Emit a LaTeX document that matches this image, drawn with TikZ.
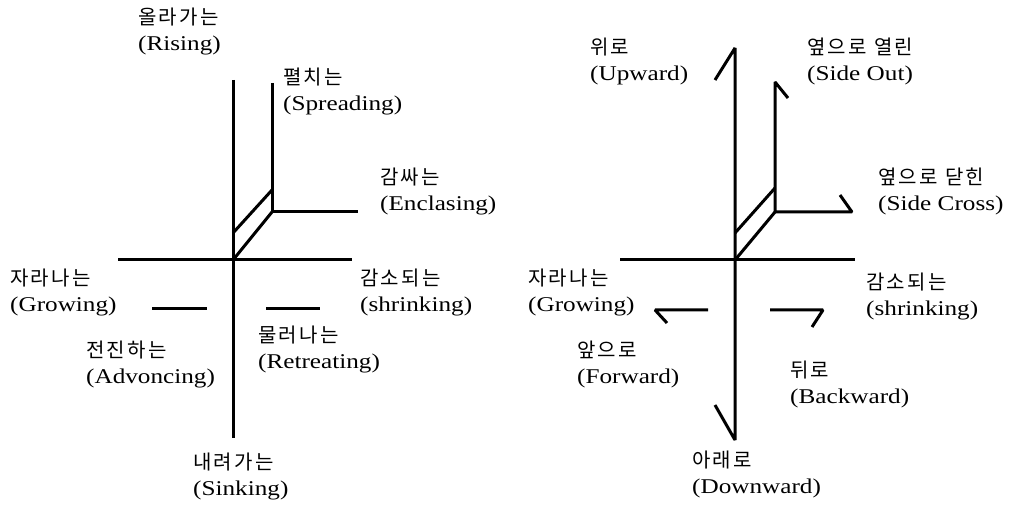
\documentclass[tikz,border=0pt]{standalone}
\usepackage{fontspec}
\setmainfont[FakeStretch=1.2]{Liberation Serif}
\newfontfamily\kr[LetterSpace=12]{Noto Sans CJK KR}
\newcommand\kolab[2]{{\kr\fontsize{20}{26}\selectfont #1}\\#2}
\tikzset{
  stroke/.style={line width=3pt, line join=bevel},
  lab/.style={anchor=north west, inner sep=0pt, align=left, font=\fontsize{21}{26}\selectfont}
}
\begin{document}
\begin{tikzpicture}[x=1pt,y=-1pt]
\useasboundingbox[fill=white] (0,0) rectangle (1036,518);
% ---------- left figure ----------
\coordinate (Lt) at (233,80);  \coordinate (Lb) at (233,438);
\coordinate (Ll) at (118,260); \coordinate (Lr) at (352,260);
\coordinate (Lc) at (233,260); \coordinate (Lu) at (233,233);
\coordinate (S1) at (272,83);  \coordinate (S2) at (272,212); \coordinate (S3) at (358,212);
\coordinate (S4) at (272,190);
\coordinate (D1a) at (152,309); \coordinate (D1b) at (207,309);
\coordinate (D2a) at (266,309); \coordinate (D2b) at (320,309);
\draw[stroke] (Lt) -- (Lb);
\draw[stroke] (Ll) -- (Lr);
\draw[stroke] (S1) -- (S2) -- (S3);
\draw[stroke] (Lc) -- (S2);
\draw[stroke] (Lu) -- (S4);
\draw[stroke] (D1a) -- (D1b);
\draw[stroke] (D2a) -- (D2b);
\node[lab] (rise) at (138,8) {\kolab{올라가는}{(Rising)}};
\node[lab] (spread) at (283,68) {\kolab{펼치는}{(Spreading)}};
\node[lab] (encl) at (380,168) {\kolab{감싸는}{(Enclasing)}};
\node[lab] (growL) at (10,269) {\kolab{자라나는}{(Growing)}};
\node[lab] (shrinkL) at (360,269) {\kolab{감소되는}{(shrinking)}};
\node[lab] (adv) at (86,341) {\kolab{전진하는}{(Advoncing)}};
\node[lab] (retr) at (258,326) {\kolab{물러나는}{(Retreating)}};
\node[lab] (sink) at (193,453) {\kolab{내려가는}{(Sinking)}};
% ---------- right figure ----------
\coordinate (Rt) at (735,48);  \coordinate (Rb) at (735,440);
\coordinate (Rth) at (715,80); \coordinate (Rbh) at (715,405);
\coordinate (Rl) at (620,260); \coordinate (Rr) at (855,260);
\coordinate (Rc) at (735,260); \coordinate (Ru) at (735,233);
\coordinate (T0) at (788,98);  \coordinate (T1) at (775,82); \coordinate (T2) at (775,212);
\coordinate (T3) at (852,212); \coordinate (T4) at (840,195); \coordinate (T5) at (775,188);
\coordinate (F0) at (667,323); \coordinate (F1) at (655,310); \coordinate (F2) at (708,310);
\coordinate (B0) at (770,310); \coordinate (B1) at (823,310); \coordinate (B2) at (812,327);
\draw[stroke] (Rth) -- (Rt) -- (Rb) -- (Rbh);
\draw[stroke] (Rl) -- (Rr);
\draw[stroke] (T0) -- (T1) -- (T2) -- (T3) -- (T4);
\draw[stroke] (Rc) -- (T2);
\draw[stroke] (Ru) -- (T5);
\draw[stroke] (F0) -- (F1) -- (F2);
\draw[stroke] (B0) -- (B1) -- (B2);
\node[lab] (up) at (590,38) {\kolab{위로}{(Upward)}};
\node[lab] (sout) at (807,38) {\kolab{옆으로 열린}{(Side Out)}};
\node[lab] (scross) at (878,168) {\kolab{옆으로 닫힌}{(Side Cross)}};
\node[lab] (growR) at (528,269) {\kolab{자라나는}{(Growing)}};
\node[lab] (shrinkR) at (866,273) {\kolab{감소되는}{(shrinking)}};
\node[lab] (fwd) at (577,341) {\kolab{앞으로}{(Forward)}};
\node[lab] (bwd) at (790,361) {\kolab{뒤로}{(Backward)}};
\node[lab] (down) at (692,451) {\kolab{아래로}{(Downward)}};
\end{tikzpicture}
\end{document}
